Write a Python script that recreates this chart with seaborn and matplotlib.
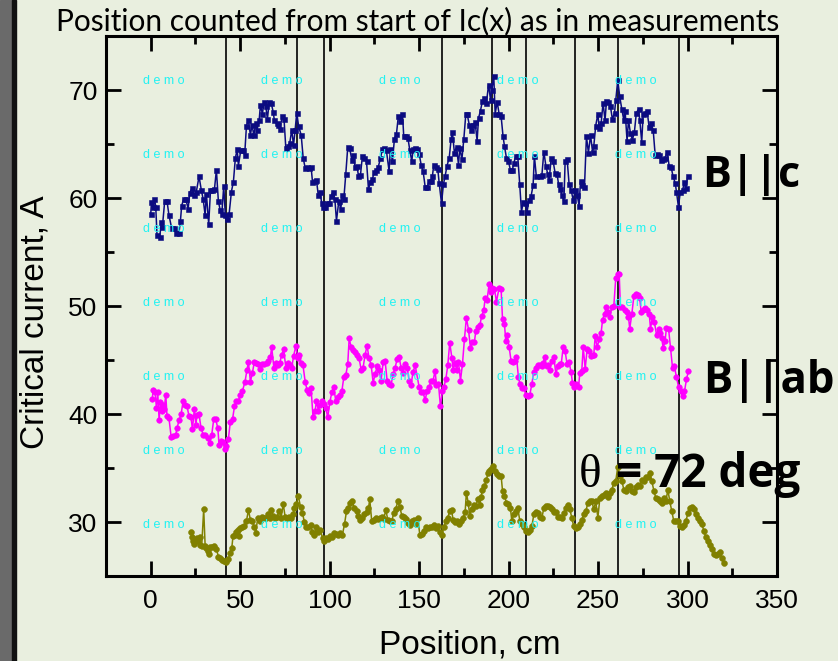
import numpy as np
import pandas as pd
import seaborn as sns
import matplotlib
matplotlib.use("Agg")
import matplotlib.pyplot as plt
from matplotlib.patches import Rectangle
from matplotlib.ticker import MultipleLocator

# ---------------- data ----------------
pos_c = [0.0, 0.4, 1.3, 2.1, 2.8, 3.5, 5.0, 6.0, 6.5, 7.8, 9.1, 10.2, 11.7, 12.9, 14.4, 15.8, 16.6, 17.3, 18.4, 19.6,
         20.9, 21.8, 23.1, 24.2, 25.5, 27.0, 28.3, 29.3, 30.4, 31.1, 32.4, 33.4, 34.5, 35.6, 36.7, 37.8, 38.8, 39.7, 40.8, 41.7,
         42.9, 43.8, 45.1, 46.2, 47.3, 48.3, 49.0, 50.3, 51.6, 52.5, 53.5, 54.6, 55.7, 56.6, 57.6, 58.7, 59.4, 60.6, 61.3, 62.4,
         63.4, 64.3, 65.2, 66.2, 67.3, 68.4, 69.1, 70.3, 71.2, 72.1, 73.6, 74.5, 75.5, 76.6, 77.7, 78.8, 79.8, 80.7, 81.6, 82.6,
         84.1, 85.2, 86.3, 87.4, 88.5, 89.6, 90.4, 91.7, 92.6, 93.6, 94.5, 95.6, 96.4, 97.5, 98.6, 99.7, 100.8, 101.9, 102.9, 103.8,
         105.1, 106.2, 107.1, 107.9, 109.0, 110.1, 111.2, 112.4, 113.1, 114.2, 115.3, 116.1, 117.2, 118.3, 119.4, 120.6, 121.7, 122.8, 123.9, 125.0,
         126.1, 127.2, 128.4, 129.5, 130.6, 131.7, 133.2, 133.9, 135.1, 136.2, 137.3, 138.4, 139.5, 140.7, 141.4, 142.5, 143.7, 144.8, 145.9, 146.6,
         147.8, 148.9, 150.0, 151.1, 152.2, 153.4, 154.5, 155.6, 156.7, 157.4, 158.2, 159.3, 160.4, 161.2, 162.5, 163.6, 164.5, 165.6, 166.8, 167.9,
         168.6, 169.7, 170.9, 172.0, 172.7, 173.9, 175.0, 176.1, 176.8, 178.0, 179.1, 180.2, 181.3, 182.4, 183.2, 184.3, 185.4, 186.5, 187.6, 188.8,
         189.9, 190.6, 191.7, 192.5, 193.6, 194.7, 195.8, 196.9, 197.7, 198.8, 199.9, 201.0, 202.1, 202.9, 204.0, 205.1, 206.2, 207.2, 208.1, 209.2,
         210.3, 211.4, 212.6, 213.7, 214.4, 215.5, 217.4, 218.6, 219.7, 220.8, 221.9, 222.7, 223.8, 224.9, 226.0, 227.1, 227.9, 229.0, 229.7, 230.9,
         231.6, 232.7, 233.8, 235.0, 236.1, 237.2, 238.3, 239.4, 240.2, 241.3, 242.4, 243.5, 244.6, 245.8, 246.9, 247.6, 248.7, 249.9, 250.6, 251.7,
         252.8, 253.9, 254.7, 255.8, 256.9, 258.0, 259.2, 259.9, 261.0, 262.1, 263.3, 264.4, 265.1, 266.2, 267.0, 268.1, 269.2, 270.3, 271.4, 272.6,
         273.3, 274.4, 275.2, 276.3, 277.4, 278.5, 279.6, 280.8, 281.9, 283.0, 284.1, 285.2, 286.4, 287.5, 288.6, 289.7, 290.8, 291.9, 293.1, 293.8,
         294.9, 296.0, 297.2, 298.3, 299.0, 300.1]
ic_c = [58.5, 59.6, 59.2, 59.9, 59.2, 56.6, 56.4, 57.8, 57.3, 59.7, 59.7, 58.4, 57.2, 57.2, 56.8, 56.8, 57.9, 59.3, 59.9, 59.9,
        59.0, 60.5, 60.9, 60.3, 60.6, 62.0, 60.7, 59.9, 58.4, 60.4, 57.6, 60.7, 60.7, 60.8, 62.6, 59.7, 58.9, 58.5, 61.1, 58.4,
        58.1, 58.5, 60.6, 61.5, 63.7, 64.5, 63.0, 64.4, 64.4, 64.0, 66.7, 67.2, 65.8, 66.8, 65.8, 66.9, 66.3, 67.2, 68.6, 67.8,
        68.9, 68.5, 67.3, 68.9, 68.8, 68.0, 67.2, 66.9, 66.8, 66.4, 67.6, 67.3, 64.6, 64.8, 65.1, 66.3, 64.9, 66.3, 67.9, 66.7,
        65.8, 63.7, 62.8, 62.9, 62.8, 62.9, 61.5, 61.6, 61.7, 60.3, 60.6, 59.5, 59.2, 59.2, 59.5, 59.5, 60.2, 60.6, 59.9, 57.9,
        59.7, 59.0, 60.3, 59.9, 62.2, 64.7, 64.6, 63.5, 64.0, 62.9, 63.0, 62.0, 62.1, 63.9, 63.7, 63.4, 60.8, 61.5, 61.8, 62.4,
        62.6, 62.9, 63.7, 64.5, 64.6, 64.4, 62.5, 64.5, 63.4, 65.5, 65.9, 67.6, 67.1, 67.8, 65.7, 65.7, 65.6, 64.4, 63.4, 64.5,
        64.6, 64.5, 64.1, 63.1, 62.5, 61.0, 61.0, 61.6, 61.6, 62.0, 63.1, 62.9, 62.7, 61.4, 59.5, 61.3, 62.0, 63.0, 63.7, 65.5,
        66.1, 64.2, 64.7, 63.1, 64.6, 63.6, 65.5, 67.8, 67.8, 66.8, 66.3, 66.8, 67.0, 65.3, 67.4, 68.1, 69.0, 69.3, 68.8, 70.5,
        69.1, 70.0, 71.3, 67.8, 68.9, 67.8, 67.6, 65.7, 64.8, 63.7, 63.4, 62.6, 62.6, 63.2, 63.9, 63.9, 61.3, 58.7, 59.6, 59.5,
        58.7, 59.8, 60.2, 61.2, 63.9, 62.0, 62.0, 62.1, 64.3, 63.0, 62.2, 61.7, 63.7, 63.4, 62.3, 62.2, 61.3, 60.8, 60.3, 59.7,
        63.4, 63.6, 61.3, 60.7, 59.8, 60.7, 60.3, 59.3, 61.6, 61.2, 61.0, 65.7, 64.2, 65.8, 64.3, 64.8, 66.7, 67.8, 66.5, 66.9,
        68.8, 67.2, 69.0, 68.9, 68.5, 67.3, 67.9, 69.1, 70.9, 69.4, 68.2, 67.2, 68.1, 65.3, 67.2, 66.0, 65.4, 66.1, 67.9, 68.2,
        67.2, 65.2, 67.8, 67.9, 68.1, 66.6, 66.9, 66.3, 64.0, 64.1, 64.0, 63.5, 63.6, 63.7, 64.3, 63.0, 62.9, 62.0, 61.4, 60.6,
        59.2, 60.6, 60.7, 61.5, 60.9, 62.0]

pos_ab = [0.9, 1.3, 2.4, 3.2, 3.9, 4.7, 5.4, 6.1, 6.9, 7.6, 8.4, 9.1, 10.2, 11.4, 12.5, 14.0, 14.7, 15.8, 17.0, 18.1,
          19.2, 20.3, 21.4, 22.5, 23.3, 24.4, 25.2, 25.9, 27.0, 28.1, 29.3, 30.4, 31.9, 33.0, 34.1, 35.2, 36.3, 37.5, 38.2, 39.3,
          40.4, 41.5, 42.3, 43.4, 44.5, 45.7, 46.8, 47.9, 49.0, 50.1, 51.2, 52.7, 53.8, 54.6, 55.7, 56.8, 57.9, 59.1, 60.2, 61.3,
          62.4, 63.5, 64.7, 65.8, 66.9, 67.6, 68.8, 69.9, 71.0, 72.1, 73.2, 74.3, 75.5, 76.6, 77.7, 78.8, 79.9, 81.1, 82.2, 82.9,
          84.0, 85.1, 86.3, 87.4, 88.5, 89.6, 90.7, 91.9, 92.6, 93.7, 94.5, 95.6, 96.7, 97.8, 98.9, 100.1, 101.2, 102.3, 103.4, 104.5,
          105.6, 106.8, 107.9, 109.0, 110.1, 110.9, 112.0, 113.1, 114.2, 115.3, 116.4, 117.6, 118.7, 119.8, 120.9, 122.0, 123.2, 124.3, 125.4, 126.5,
          127.6, 128.7, 129.9, 131.0, 132.1, 133.2, 134.3, 135.5, 136.6, 137.7, 138.8, 139.9, 141.0, 142.2, 143.3, 144.4, 145.5, 146.6, 147.8, 150.0,
          151.1, 152.2, 153.3, 154.5, 155.6, 156.7, 157.8, 158.9, 159.7, 160.8, 161.9, 163.0, 163.8, 164.9, 166.0, 167.1, 168.3, 169.0, 170.1, 170.9,
          172.0, 173.1, 174.2, 175.3, 176.4, 177.6, 178.7, 179.8, 180.9, 181.7, 182.8, 183.9, 185.0, 186.1, 186.9, 188.0, 189.1, 189.9, 191.0, 192.1,
          193.2, 194.7, 195.8, 196.6, 197.7, 198.4, 199.2, 200.3, 201.4, 202.5, 203.7, 204.4, 205.5, 206.3, 207.4, 208.5, 209.6, 210.7, 211.9, 213.0,
          214.1, 215.2, 216.3, 217.4, 218.4, 219.3, 220.2, 221.2, 222.1, 223.0, 224.1, 225.3, 226.4, 227.5, 228.6, 229.4, 230.5, 231.6, 232.7, 233.8,
          234.9, 235.7, 236.8, 237.9, 239.1, 239.8, 240.9, 241.7, 242.8, 243.9, 245.0, 245.8, 246.9, 247.6, 248.4, 249.5, 250.6, 251.7, 252.5, 253.6,
          254.7, 255.8, 256.6, 257.7, 258.8, 259.9, 260.9, 261.8, 262.5, 263.6, 264.8, 265.9, 267.0, 267.7, 268.9, 270.0, 271.1, 272.2, 273.3, 274.1,
          275.2, 276.3, 277.4, 278.6, 279.3, 280.4, 281.5, 282.7, 283.8, 284.5, 285.6, 286.4, 287.5, 288.2, 289.4, 290.5, 291.6, 292.7, 293.8, 295.0,
          296.1, 297.2, 298.3, 299.4, 300.5]
ic_ab = [41.4, 42.2, 42.0, 40.6, 42.0, 39.4, 41.1, 40.3, 40.8, 40.5, 41.8, 39.8, 39.6, 37.9, 38.0, 38.1, 38.7, 39.4, 40.0, 41.2,
         40.8, 40.7, 39.8, 39.7, 38.6, 40.5, 39.0, 39.9, 40.0, 38.7, 38.1, 38.1, 37.8, 37.3, 38.1, 39.5, 39.5, 38.7, 37.1, 37.5,
         37.4, 36.8, 37.0, 37.7, 39.3, 39.5, 40.7, 41.2, 41.2, 41.8, 42.1, 43.0, 44.1, 44.8, 43.0, 43.8, 44.8, 44.7, 44.6, 44.2,
         44.6, 44.6, 44.7, 44.9, 45.3, 46.2, 44.3, 44.7, 44.5, 44.7, 45.5, 46.0, 44.3, 44.7, 44.5, 44.3, 45.4, 46.3, 45.2, 45.5,
         44.7, 44.5, 43.0, 42.2, 41.9, 42.4, 39.7, 40.3, 41.2, 40.3, 40.8, 41.2, 40.9, 40.6, 39.7, 41.1, 42.0, 42.5, 41.2, 41.6,
         41.8, 42.1, 43.4, 43.6, 44.6, 47.0, 46.2, 45.9, 45.7, 45.5, 45.2, 44.1, 44.3, 45.5, 46.3, 45.2, 44.5, 42.9, 43.7, 44.4,
         44.1, 43.1, 44.8, 44.9, 43.1, 42.8, 42.7, 43.7, 44.3, 45.1, 45.3, 44.3, 43.8, 44.6, 44.3, 43.1, 42.7, 43.9, 44.5, 42.5,
         42.0, 42.0, 41.3, 42.1, 42.5, 43.1, 43.1, 44.0, 42.7, 42.8, 40.7, 42.1, 42.5, 43.2, 44.5, 46.6, 45.2, 44.1, 44.7, 44.1,
         44.8, 43.1, 44.6, 46.9, 48.9, 47.8, 46.1, 46.7, 46.7, 47.7, 48.1, 48.2, 49.1, 49.6, 50.7, 50.6, 52.0, 51.3, 51.7, 51.6,
         50.4, 51.7, 51.6, 48.8, 48.3, 46.8, 47.3, 46.2, 44.9, 44.8, 44.9, 45.3, 43.4, 42.8, 42.4, 42.4, 41.8, 41.7, 41.8, 42.8,
         43.9, 44.3, 44.5, 44.5, 44.4, 44.7, 45.3, 44.4, 44.5, 44.1, 44.9, 45.3, 43.7, 44.4, 44.6, 44.6, 46.2, 45.8, 44.6, 44.8,
         43.9, 42.9, 42.5, 42.8, 42.5, 43.8, 44.0, 46.2, 44.2, 46.0, 45.8, 45.4, 45.5, 45.5, 47.2, 46.2, 46.9, 47.5, 48.7, 49.3,
         49.9, 49.4, 49.0, 49.9, 50.0, 52.6, 53.0, 53.0, 49.9, 49.9, 49.6, 49.4, 49.0, 47.9, 49.3, 50.9, 51.1, 51.0, 50.7, 49.4,
         49.6, 49.8, 49.6, 49.3, 47.9, 49.0, 48.5, 47.3, 47.9, 47.5, 47.0, 46.1, 46.8, 48.0, 47.9, 46.1, 44.3, 44.4, 43.4, 42.5,
         42.1, 41.7, 42.1, 43.2, 44.0]

pos_72 = [22.7, 23.1, 23.7, 24.4, 25.2, 25.9, 26.6, 27.4, 27.8, 28.5, 29.6, 30.4, 31.1, 31.9, 32.6, 33.4, 34.5, 35.6, 36.7, 37.8,
          38.9, 40.1, 41.2, 42.3, 43.4, 44.2, 45.3, 46.0, 47.1, 47.9, 48.6, 49.4, 50.1, 51.2, 52.4, 53.5, 54.6, 55.7, 56.8, 57.9,
          58.7, 59.8, 60.9, 62.0, 63.2, 64.3, 65.4, 66.5, 67.3, 68.4, 69.5, 70.6, 71.7, 72.9, 74.0, 75.1, 76.2, 77.3, 78.4, 79.6,
          80.3, 81.4, 82.5, 83.7, 84.8, 85.9, 87.0, 88.1, 89.3, 90.4, 91.5, 92.6, 93.7, 94.8, 96.0, 97.1, 98.2, 99.3, 100.4, 101.5,
          102.7, 103.8, 104.9, 106.0, 107.1, 108.3, 109.4, 110.5, 111.6, 112.7, 113.8, 115.0, 116.1, 117.2, 118.3, 119.4, 120.6, 121.7, 122.4, 123.5,
          124.7, 125.8, 126.9, 128.0, 129.1, 130.2, 131.4, 132.5, 133.6, 134.7, 135.8, 136.9, 138.1, 139.2, 140.3, 141.4, 142.5, 143.7, 144.8, 145.9,
          147.0, 148.1, 149.2, 150.4, 151.5, 152.6, 153.7, 154.8, 156.0, 157.1, 158.2, 159.3, 160.4, 161.5, 162.7, 163.8, 164.9, 166.0, 167.1, 168.1,
          169.0, 170.1, 171.2, 172.3, 173.5, 174.6, 175.7, 176.4, 177.4, 178.3, 179.4, 180.5, 181.7, 182.8, 183.9, 184.6, 185.4, 186.5, 187.6, 188.4,
          189.1, 190.2, 191.4, 192.5, 193.6, 194.7, 195.8, 196.6, 197.7, 198.8, 199.9, 201.0, 201.8, 202.9, 204.0, 205.1, 206.3, 207.4, 208.5, 209.6,
          210.7, 211.9, 213.0, 214.1, 215.2, 216.3, 217.4, 218.6, 219.7, 220.8, 221.9, 223.0, 224.1, 225.3, 226.4, 227.5, 228.6, 229.7, 230.9, 232.0,
          233.1, 234.2, 235.3, 236.4, 237.6, 238.7, 239.8, 240.9, 242.0, 243.2, 244.3, 245.4, 246.5, 247.6, 248.7, 249.9, 251.0, 252.1, 253.2, 254.3,
          255.5, 256.6, 257.7, 258.8, 259.9, 261.0, 262.2, 263.3, 264.4, 265.5, 266.6, 267.7, 268.9, 270.0, 271.1, 272.2, 273.3, 274.5, 275.6, 276.7,
          277.8, 278.9, 280.0, 281.2, 282.3, 283.4, 284.5, 285.6, 286.7, 287.9, 289.0, 290.1, 291.2, 292.3, 293.5, 294.6, 295.7, 296.8, 297.9, 299.1,
          300.2, 301.3, 302.4, 303.5, 304.6, 305.8, 306.9, 308.0, 309.1, 310.2, 311.3, 312.5, 313.6, 314.7, 315.8, 316.9, 318.1, 319.2, 320.3]
ic_72 = [29.1, 28.6, 28.2, 28.0, 28.3, 28.5, 28.2, 28.6, 27.9, 27.8, 31.2, 27.8, 27.6, 27.3, 27.0, 27.7, 27.7, 27.8, 27.5, 26.8,
         26.7, 26.5, 26.4, 26.3, 26.6, 27.1, 27.6, 28.7, 28.8, 29.1, 29.3, 28.7, 29.4, 29.5, 29.6, 30.1, 31.1, 30.2, 30.1, 29.5,
         29.0, 30.4, 30.1, 30.5, 30.4, 30.4, 30.7, 30.4, 31.1, 30.6, 30.4, 30.5, 31.0, 30.4, 31.7, 30.5, 30.4, 30.5, 30.4, 30.7,
         31.3, 31.7, 32.4, 31.4, 30.8, 30.0, 29.5, 29.5, 29.7, 29.1, 28.8, 29.5, 29.1, 29.3, 28.5, 28.2, 28.5, 28.4, 28.7, 28.6,
         29.0, 28.9, 28.8, 29.0, 28.8, 29.8, 31.0, 31.3, 31.8, 31.9, 31.3, 31.0, 30.6, 30.2, 30.4, 30.7, 30.9, 31.3, 32.1, 30.1,
         30.2, 30.4, 30.3, 30.4, 30.5, 30.3, 31.1, 30.2, 30.1, 30.1, 30.8, 31.2, 31.9, 31.4, 30.6, 30.5, 30.3, 29.9, 29.7, 30.1,
         30.2, 29.8, 30.4, 28.8, 28.9, 29.2, 29.5, 29.4, 29.5, 29.5, 29.7, 29.4, 29.6, 29.1, 28.8, 29.5, 30.1, 30.4, 31.0, 31.1,
         30.2, 30.0, 30.1, 29.8, 30.1, 30.4, 30.9, 32.7, 31.8, 30.6, 31.2, 31.6, 31.5, 32.1, 31.6, 32.3, 33.0, 33.3, 33.9, 34.5,
         34.7, 34.9, 35.2, 34.7, 34.4, 34.3, 34.3, 32.9, 32.4, 31.8, 31.7, 31.3, 30.1, 30.7, 31.0, 31.3, 30.1, 29.8, 29.5, 29.2,
         29.1, 29.3, 29.6, 30.7, 30.9, 30.8, 30.5, 30.4, 31.3, 31.5, 31.5, 31.4, 31.2, 30.9, 30.9, 30.5, 30.5, 30.4, 30.8, 31.3,
         31.6, 31.2, 30.4, 29.6, 29.4, 29.5, 29.8, 30.2, 30.7, 31.0, 31.8, 31.9, 31.9, 31.2, 31.9, 30.4, 32.2, 32.4, 32.5, 32.7,
         32.3, 32.7, 33.0, 33.6, 33.8, 35.1, 34.3, 33.8, 33.0, 32.9, 33.2, 33.3, 32.9, 32.8, 33.2, 33.4, 33.3, 33.9, 33.8, 34.2,
         34.2, 34.5, 33.8, 32.9, 32.2, 32.1, 31.9, 31.8, 32.2, 31.9, 33.0, 31.9, 31.0, 30.1, 30.1, 30.1, 29.6, 29.5, 29.7, 30.1,
         30.8, 31.3, 31.4, 31.2, 30.7, 30.4, 30.1, 29.8, 29.2, 28.6, 28.2, 27.9, 27.5, 27.0, 26.9, 27.0, 27.2, 26.7, 26.2]

section_marks = [42, 82, 97, 162.5, 191, 210, 237, 261, 295.5]
x_ticks = [0, 50, 100, 150, 200, 250, 300, 350]
y_ticks = [30, 40, 50, 60, 70]
series_names = ["B||c", "B||ab", "θ = 72 deg"]
title_text = "Position counted from start of Ic(x) as in measurements"

# ---------------- style ----------------
BG = "#e9efdf"
W, H = 838, 661
sns.set_theme(style="ticks")
plt.rcParams["font.family"] = ["Liberation Sans", "DejaVu Sans"]

fig = plt.figure(figsize=(W / 100, H / 100), dpi=100, facecolor=BG)
ax = fig.add_axes([106 / W, 1 - 576 / H, 671 / W, 540 / H])
ax.set_facecolor(BG)

# left dark slide border
fig.patches.append(Rectangle((0, 0), 12 / W, 1, transform=fig.transFigure, color="#6a6a6a", zorder=0))
fig.patches.append(Rectangle((12 / W, 0), 4 / W, 1, transform=fig.transFigure, color="#111111", zorder=0))

for b in section_marks:
    ax.axvline(b, color="black", lw=1.2, zorder=1)

frames = [
    (pos_c, ic_c, "#0b0b80", "s", 3.6),
    (pos_ab, ic_ab, "#ff00ff", "o", 4.0),
    (pos_72, ic_72, "#808000", "o", 4.2),
]
for (pos, ic, color, mk, ms), name in zip(frames, series_names):
    df = pd.DataFrame({"Position": pos, "Ic": ic, "series": name})
    sns.lineplot(data=df, x="Position", y="Ic", ax=ax, color=color, marker=mk,
                 markersize=ms, markeredgecolor=color, markeredgewidth=0.4,
                 linewidth=1.1, estimator=None, sort=False, legend=False, zorder=3)

ax.set_xlim(-25, 350)
ax.set_ylim(25, 75)
ax.set_xticks(x_ticks)
ax.set_yticks(y_ticks)
ax.xaxis.set_minor_locator(MultipleLocator(25))
ax.yaxis.set_minor_locator(MultipleLocator(5))
ax.tick_params(which="both", direction="in", top=True, right=True, width=2,
               colors="black", labelsize=19)
ax.tick_params(which="major", length=11)
ax.tick_params(which="minor", length=6)
ax.tick_params(axis="x", pad=9)
ax.tick_params(axis="y", pad=6)
for s in ax.spines.values():
    s.set_linewidth(2.2)
    s.set_color("black")

ax.set_xlabel("Position, cm", fontsize=24, color="black")
ax.set_ylabel("Critical current, A", fontsize=24, color="black")
ax.xaxis.label.set_va("center")
ax.yaxis.label.set_va("center")
ax.xaxis.set_label_coords((470 - 106) / 671, (576 - 645) / 540)
ax.yaxis.set_label_coords((35 - 106) / 671, (576 - 322) / 540)

fig.text(418 / W, 1 - 30 / H, title_text, ha="center", va="baseline",
         fontsize=21.5, family=["Lato", "DejaVu Sans"], color="black")

label_font = ["Open Sans", "DejaVu Sans"]
fig.text(702 / W, 1 - 187 / H, series_names[0], ha="left", va="baseline",
         fontsize=31, weight="bold", family=label_font, color="black", zorder=5)
fig.text(703 / W, 1 - 393 / H, series_names[1], ha="left", va="baseline",
         fontsize=31.5, weight="bold", family=label_font, color="black", zorder=5)
fig.text(579 / W, 1 - 487 / H, "θ", ha="left", va="baseline",
         fontsize=34, family=["Liberation Serif", "DejaVu Serif"], color="black", zorder=5)
fig.text(616 / W, 1 - 487 / H, "= 72 deg", ha="left", va="baseline",
         fontsize=33, weight="bold", family=label_font, color="black", zorder=5)

# "demo" watermark grid
for cx in [164, 282, 400, 518, 636]:
    for cy in [81, 155, 229, 303, 377, 451, 525]:
        fig.text(cx / W, 1 - cy / H, "d e m o", ha="center", va="center",
                 fontsize=9, color="#22f2f2", family=["Liberation Sans"], zorder=10)

fig.savefig("out.png", dpi=100, facecolor=BG)
